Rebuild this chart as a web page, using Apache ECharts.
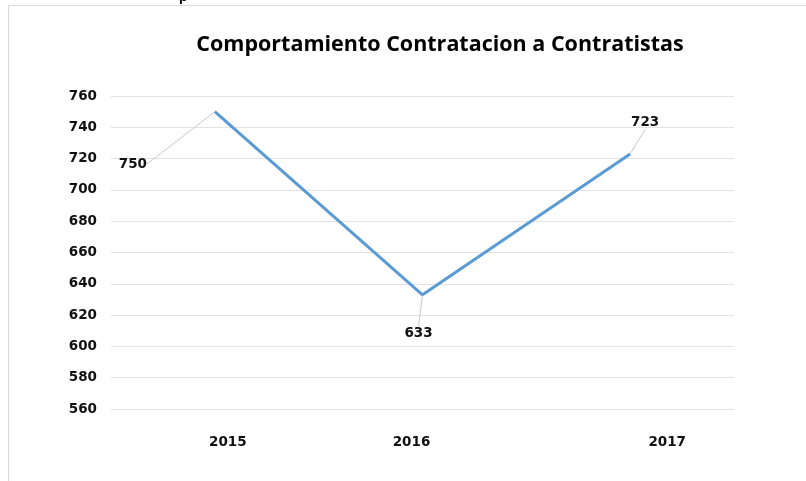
<!DOCTYPE html>
<html>
<head>
<meta charset="utf-8">
<script src="https://cdn.jsdelivr.net/npm/echarts@6/dist/echarts.min.js"></script>
<style>
  html, body { margin: 0; padding: 0; background: #fff; }
  #chart { width: 806px; height: 481px; }
</style>
</head>
<body>
<div id="chart"></div>
<script>
const years = ["2015", "2016", "2017"];
const contratos = [750, 633, 723];
// small nudges so labels sit where the reference has them
const yearShift = [13, -11, 37];
const labelMoves = [[-82, 65], [-4, 51], [15, -19]];

const chart = echarts.init(document.getElementById("chart"));

chart.setOption({
  animation: false,
  title: {
    text: "Comportamiento Contratacion a Contratistas",
    left: 435,
    top: 29,
    textAlign: "center",
    textStyle: { fontFamily: "Open Sans", fontWeight: "bold", fontSize: 21.5, color: "#000" }
  },
  graphic: [
    {
      type: "rect",
      shape: { x: 8.5, y: 5.5, width: 900, height: 600 },
      style: { fill: "none", stroke: "#d9d9d9", lineWidth: 1 },
      silent: true
    },
    {
      type: "text",
      left: 179, top: -10,
      style: { text: "p", font: "bold 14px 'Liberation Sans'", fill: "#000" }
    }
  ],
  grid: { left: 111, right: 72, top: 96, bottom: 72 },
  xAxis: {
    type: "category",
    data: years,
    axisLine: { show: false },
    axisTick: { show: false },
    axisLabel: {
      margin: 26,
      formatter: (v, i) => "{y" + i + "|" + v + "}",
      rich: Object.fromEntries(yearShift.map((s, i) => [
        "y" + i,
        {
          fontFamily: "DejaVu Sans", fontWeight: "bold", fontSize: 13.5, color: "#111",
          padding: s > 0 ? [0, 0, 0, 2 * s] : [0, -2 * s, 0, 0]
        }
      ]))
    }
  },
  yAxis: {
    type: "value",
    min: 560,
    max: 760,
    interval: 20,
    axisLine: { show: false },
    axisTick: { show: false },
    splitLine: { lineStyle: { color: "#e3e3e3", width: 1 } },
    axisLabel: {
      margin: 14,
      fontFamily: "DejaVu Sans", fontWeight: "bold", fontSize: 13.5, color: "#111"
    }
  },
  series: [{
    type: "line",
    data: contratos,
    showSymbol: true,
    symbol: "circle",
    symbolSize: 1,
    itemStyle: { color: "rgba(0,0,0,0)", borderWidth: 0 },
    lineStyle: { color: "#5b9bd5", width: 3 },
    label: {
      show: true,
      position: "top",
      fontFamily: "DejaVu Sans", fontWeight: "bold", fontSize: 13.5, color: "#111"
    },
    labelLine: { show: true, lineStyle: { color: "#c8c8c8", width: 1 } },
    labelLayout: (p) => ({ dx: labelMoves[p.dataIndex][0], dy: labelMoves[p.dataIndex][1] })
  }]
});
</script>
</body>
</html>
